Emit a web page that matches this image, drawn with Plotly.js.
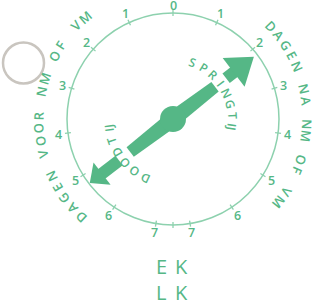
<!DOCTYPE html>
<html><head><meta charset="utf-8">
<script src="https://cdn.plot.ly/plotly-3.0.1.min.js"></script>
<style>html,body{margin:0;padding:0;background:#fff}#chart{width:320px;height:304px}</style>
</head><body><div id="chart"></div>
<script>
// ---- data ----
const dayTicks = [0, 1, 2, 3, 4, 5, 6, 7];
const tickLabels = ['0', '1', '2', '3', '4', '5', '6', '7'];
const quarterDay = 7.38;          // EK / LK at the bottom of the dial
const springtideDay = 2.15;       // arrow direction (days after NM/VM)
const leftTitle = 'DAGEN VOOR NM OF VM';
const rightTitle = 'DAGEN NA NM OF VM';
const springChars = ['S', 'P', 'R', 'I', 'N', 'G', 'T', 'IJ'];
const neapChars = ['D', 'O', 'O', 'D', 'T', 'IJ'];
const quarterLabels = ['EK', 'LK'];

// ---- styling / geometry ----
const GREEN = '#55b786', LINE = '#8dd1ae', FONT = 'Open Sans';
const R = 106, labelR = 115.5, textR = 134.5;
const degPerDay = 180 / quarterDay;
const rad = d => d * Math.PI / 180;
const pol = (r, deg) => [r * Math.sin(rad(deg)), r * Math.cos(rad(deg))];
const norm = a => ((a % 360) + 540) % 360 - 180;

const traces = [];
const annotations = [];
const shapes = [];

// dial circle
shapes.push({type: 'circle', xref: 'x', yref: 'y', x0: -R, x1: R, y0: -R, y1: R,
  line: {color: LINE, width: 1.5}});
// grey circle
shapes.push({type: 'circle', xref: 'x', yref: 'y', x0: -170, x1: -129, y0: 35.5, y1: 76.5,
  line: {color: '#c9c5bf', width: 2.5}});

// ticks
const tx = [], ty = [];
const tickAngles = [];
dayTicks.forEach(d => { tickAngles.push(d * degPerDay); if (d > 0) tickAngles.push(-d * degPerDay); });
tickAngles.push(180);
tickAngles.forEach(a => {
  const p0 = pol(R - 3, a), p1 = pol(R + 3, a);
  tx.push(p0[0], p1[0], null); ty.push(p0[1], p1[1], null);
});
traces.push({x: tx, y: ty, mode: 'lines', line: {color: LINE, width: 1.3}, hoverinfo: 'skip'});

// tick labels
dayTicks.forEach((d, i) => {
  const sides = d === 0 ? [1] : [1, -1];
  sides.forEach(s => {
    const p = pol(d === 0 ? labelR - 2 : labelR, s * d * degPerDay);
    annotations.push({x: p[0], y: p[1], text: tickLabels[i], showarrow: false, borderpad: 0,
      xanchor: 'center', yanchor: 'middle', font: {family: FONT, size: 12.5, weight: 600, color: GREEN}});
  });
});

// curved text helper
function curved(chars, r, a0, a1, size) {
  const n = chars.length;
  chars.forEach((c, i) => {
    if (c === ' ') return;
    const a = a0 + (a1 - a0) * i / (n - 1);
    const p = pol(r, a);
    annotations.push({x: p[0], y: p[1], text: c, showarrow: false, textangle: norm(a), borderpad: 0,
      xanchor: 'center', yanchor: 'middle', font: {family: FONT, size: size, weight: 600, color: GREEN}});
  });
}
curved(leftTitle.split(''), textR, -136.8, -40.6, 13);
curved(rightTitle.split(''), textR, 46.5, 128.1, 13);
curved(springChars, 59.5, 19.5, 98, 12);
curved(neapChars, 65, 205, 262, 12);

// arrow
const aDir = springtideDay * degPerDay;
function quad(dir, d0, d1, hw0, hw1) {
  const u = pol(1, dir), v = [u[1], -u[0]];
  const pts = [[d0, hw0], [d1, hw1], [d1, -hw1], [d0, -hw0], [d0, hw0]];
  return {x: pts.map(p => u[0] * p[0] + v[0] * p[1]), y: pts.map(p => u[1] * p[0] + v[1] * p[1])};
}
function head(dir, base, hw, tip) {
  const u = pol(1, dir), v = [u[1], -u[0]];
  const pts = [[base, hw], [tip, 0], [base, -hw], [base, hw]];
  return {x: pts.map(p => u[0] * p[0] + v[0] * p[1]), y: pts.map(p => u[1] * p[0] + v[1] * p[1])};
}
const polys = [
  quad(aDir, 0, 53, 8, 6), quad(aDir, 67, 78, 6, 6), head(aDir, 76.5, 18, 102),
  quad(aDir + 180, 0, 54, 8, 6), quad(aDir + 180, 68, 91, 6, 6), head(aDir + 180, 89.5, 14, 105)
];
polys.forEach(p => traces.push({x: p.x, y: p.y, mode: 'lines', fill: 'toself', fillcolor: GREEN,
  line: {width: 0, color: GREEN}, hoverinfo: 'skip'}));
shapes.push({type: 'circle', xref: 'x', yref: 'y', x0: -13, x1: 13, y0: -13, y1: 13,
  fillcolor: GREEN, line: {width: 0}});

// EK / LK
quarterLabels.forEach((lab, j) => {
  const y = j === 0 ? -147.5 : -173.5;
  lab.split('').forEach((c, k) => {
    annotations.push({x: k === 0 ? -12 : 8.5, y: y, text: c, showarrow: false, borderpad: 0,
      xanchor: 'center', yanchor: 'middle', font: {family: FONT, size: 20, color: GREEN}});
  });
});

const layout = {
  width: 320, height: 304, margin: {l: 0, r: 0, t: 0, b: 0},
  paper_bgcolor: '#fff', plot_bgcolor: '#fff', showlegend: false,
  xaxis: {range: [-173, 147], visible: false, fixedrange: true},
  yaxis: {range: [-185, 119], visible: false, fixedrange: true},
  shapes: shapes, annotations: annotations
};
Plotly.newPlot('chart', traces, layout, {staticPlot: true, displayModeBar: false});
</script></body></html>
